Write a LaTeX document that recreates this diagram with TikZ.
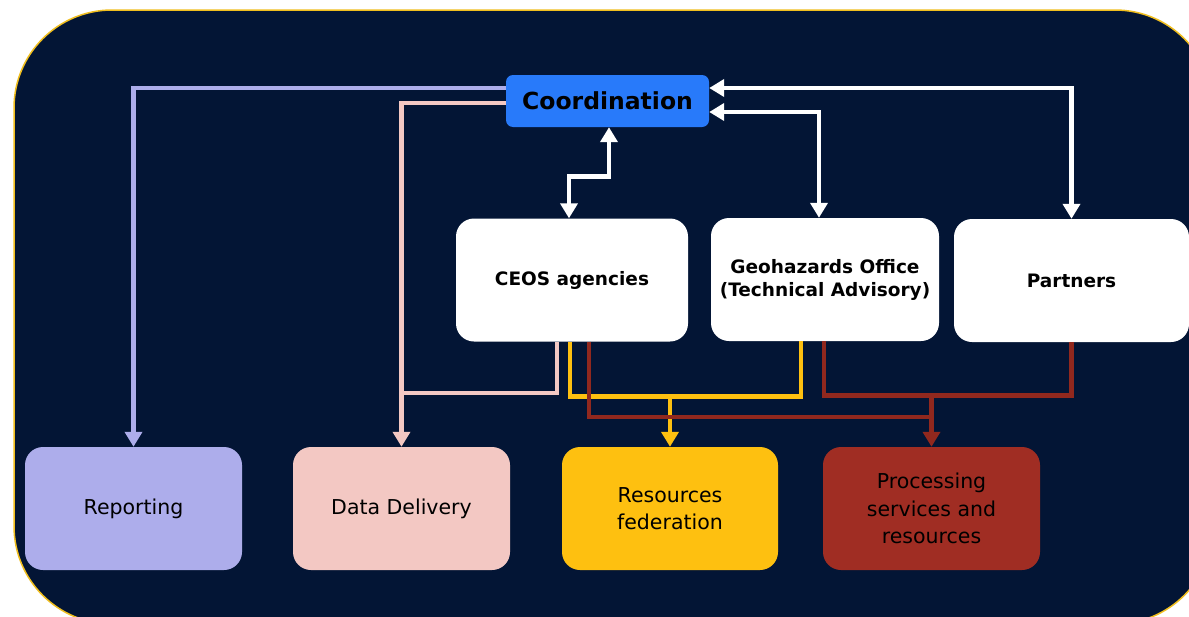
\documentclass[tikz,border=0pt]{standalone}
\usepackage{fontspec}
\setmainfont{DejaVu Sans}
\usetikzlibrary{arrows.meta,calc}
\definecolor{navy}{RGB}{3,21,53}
\definecolor{goldb}{RGB}{240,190,30}
\definecolor{coordblue}{RGB}{40,122,250}
\definecolor{lav}{RGB}{173,173,235}
\definecolor{pinkc}{RGB}{243,200,195}
\definecolor{yelc}{RGB}{254,192,16}
\definecolor{redc}{RGB}{160,45,35}
\definecolor{redl}{RGB}{145,40,30}
\tikzset{
  topbox/.style={fill=white, rounded corners=18pt, inner sep=0pt, align=center,
    minimum height=123pt, font=\fontsize{18.5}{23}\selectfont\bfseries, text=black},
  outbox/.style={rounded corners=18pt, inner sep=0pt, align=center,
    minimum width=217pt, minimum height=123pt, font=\fontsize{20.5}{27.5}\selectfont, text=black},
  conn/.style={line width=4.6pt},
  tip/.style={-{Triangle[length=15pt,width=17pt]}},
  tips/.style={{Triangle[length=15pt,width=17pt]}-{Triangle[length=15pt,width=17pt]}},
}
\begin{document}
\begin{tikzpicture}[x=1pt,y=-1pt]
\useasboundingbox (0,0) rectangle (1189,616);
\fill[white] (0,0) rectangle (1189,616);
\begin{scope}
\clip (0,0) rectangle (1189,616);
\draw[goldb, fill=navy, line width=1.5pt, rounded corners=98pt] (14,10) rectangle (1213,624);
\end{scope}

% nodes
\node[fill=coordblue, rounded corners=7pt, inner sep=0pt, minimum width=203pt, minimum height=52pt,
  font=\fontsize{23.5}{26}\selectfont\bfseries, text=black] (coord) at (607.5,101) {Coordination};
\node[topbox, minimum width=232pt] (ceos) at (572,280) {CEOS agencies};
\node[topbox, minimum width=228pt] (geo) at (825,279.5) {Geohazards Office\\(Technical Advisory)};
\node[topbox, minimum width=235pt] (part) at (1071.5,280.5) {Partners};
\node[outbox, fill=lav] (rep) at (133.5,508.5) {Reporting};
\node[outbox, fill=pinkc] (dd) at (401.5,508.5) {Data Delivery};
\node[outbox, fill=yelc, minimum width=216pt] (rf) at (670,508.5) {Resources\\federation};
\node[outbox, fill=redc] (proc) at (931.5,508.5) {Processing\\services and\\resources};

% lavender / pink
\draw[conn, lav, tip] ([yshift=13pt]coord.west) -| (rep.north);
\draw[conn, pinkc, tip] ([yshift=-2pt]coord.west) -| (dd.north);
\draw[conn, pinkc] ([xshift=-15pt]ceos.south) |- ([yshift=54pt]dd.north);

% yellow
\draw[conn, yelc] ([xshift=-2pt]ceos.south) |- ([xshift=-24pt,yshift=-55pt]geo.south) -- ([xshift=-24pt]geo.south);
\draw[conn, yelc, tip] ([yshift=51pt]rf.north) -- (rf.north);

% red
\draw[conn, redl] ([xshift=17pt]ceos.south) |- ([yshift=30pt]proc.north);
\draw[conn, redl] ([xshift=-1pt]geo.south) |- ([yshift=-53pt]part.south) -- (part.south);
\draw[conn, redl, tip] ([yshift=53pt]proc.north) -- (proc.north);

% white
\draw[conn, white, tips] ([xshift=-3pt]ceos.north) -- ++(0,-42) -| ([xshift=1.5pt]coord.south);
\draw[conn, white, tips] ([yshift=13pt]coord.east) -| (part.north);
\draw[conn, white, tips] ([yshift=-11pt]coord.east) -| ([xshift=-6pt]geo.north);
\end{tikzpicture}
\end{document}
